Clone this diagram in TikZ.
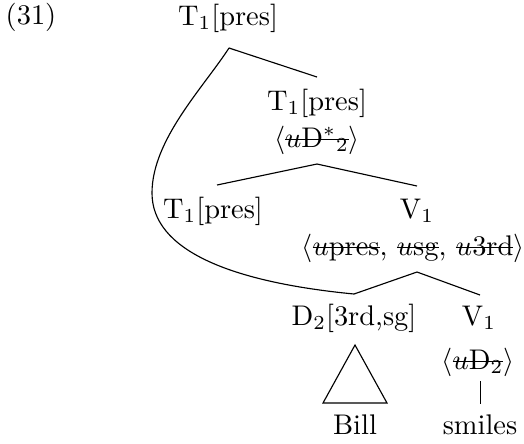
\documentclass[tikz,border=0pt]{standalone}
\newcommand\strk[1]{\leavevmode\setbox0\hbox{#1}\rlap{\rule[0.55ex]{\wd0}{0.4pt}}\box0}
\begin{document}
\begin{tikzpicture}[x=0.352pt,y=-0.352pt,
  lab/.style={inner sep=0pt,font=\fontsize{10}{12}\selectfont},
  edge/.style={line width=0.4pt}]
\useasboundingbox (0,0) rectangle (524,443);
\node[lab] (ex) at (31,17) {(31)};
\node[lab] (root) at (228,18) {T$_1$[pres]};
\node[lab] (t2a) at (317,103) {T$_1$[pres]};
\node[lab] (t2b) at (317,140) {$\langle$\strk{$u$D$^{*}{}_{2}$}$\rangle$};
\node[lab] (t3) at (213,211) {T$_1$[pres]};
\node[lab] (v1a) at (417,211) {V$_1$};
\node[lab] (v1b) at (413,248) {$\langle$\strk{$u$pres}, \strk{$u$sg}, \strk{$u$3rd}$\rangle$};
\node[lab] (d2) at (354,318) {D$_2$[3rd,sg]};
\node[lab] (v2a) at (479,318) {V$_1$};
\node[lab] (v2b) at (478,362) {$\langle$\strk{$u$D$_2$}$\rangle$};
\node[lab] (bill) at (355,425) {Bill};
\node[lab] (smiles) at (480,425) {smiles};
% branch points
\coordinate (rB) at (229,48);
\coordinate (t2T) at (317,77);
\coordinate (t2B) at (317,164);
\coordinate (t3T) at (217,185);
\coordinate (v1T) at (417,186);
\coordinate (v1B) at (417,272);
\coordinate (d2T) at (354,294);
\coordinate (v2T) at (480,295);
\coordinate (triA) at (355,345);
\coordinate (triL) at (323,403);
\coordinate (triR) at (387,403);
\coordinate (vlT) at (480.5,381);
\coordinate (vlB) at (480.5,404);
\draw[edge] (rB) -- (t2T);
\draw[edge] (t3T) -- (t2B) -- (v1T);
\draw[edge] (d2T) -- (v1B) -- (v2T);
\draw[edge] (triA) -- (triL) -- (triR) -- cycle;
\draw[edge] (vlT) -- (vlB);
\draw[edge] (rB) .. controls (203,88) and (152,140) .. (152,193)
  .. controls (152,250) and (230,282) .. (d2T);
\end{tikzpicture}
\end{document}
